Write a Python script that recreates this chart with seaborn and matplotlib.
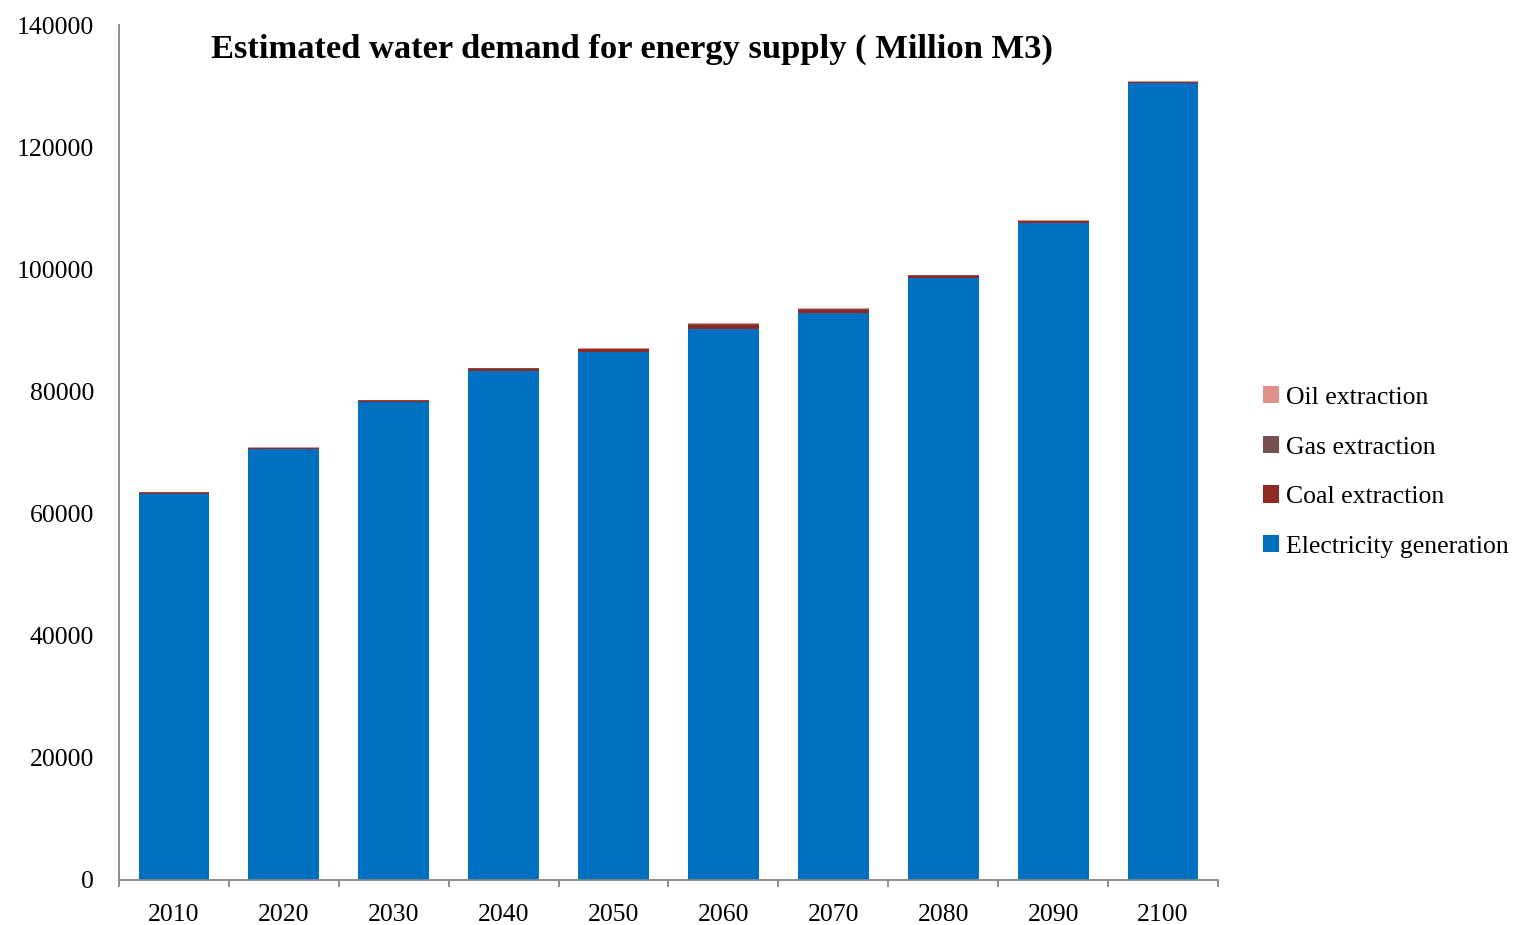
import numpy as np
import pandas as pd
import matplotlib
matplotlib.use("Agg")
import matplotlib.pyplot as plt
import seaborn as sns
from matplotlib.patches import Patch
from matplotlib.ticker import FixedLocator, MultipleLocator

years = ["2010", "2020", "2030", "2040", "2050", "2060", "2070", "2080", "2090", "2100"]
electricity = [63200, 70500, 78200, 83300, 86500, 90300, 92800, 98600, 107600, 130500]
coal = [250, 250, 300, 400, 450, 650, 550, 350, 250, 100]
gas = [50, 50, 50, 60, 60, 80, 150, 80, 80, 100]
oil = [100, 100, 100, 120, 120, 120, 100, 100, 100, 200]

series_names = ["Electricity generation", "Coal extraction", "Gas extraction", "Oil extraction"]
series_colors = ["#0070C0", "#8E2A22", "#7A4F4F", "#E0918A"]

df = pd.DataFrame({"year": years, "Electricity generation": electricity,
                   "Coal extraction": coal, "Gas extraction": gas, "Oil extraction": oil})

sns.set_theme(style="white")
plt.rcParams["font.family"] = ["Liberation Serif", "DejaVu Serif"]

fig = plt.figure(figsize=(15.18, 9.25), dpi=100)
ax = fig.add_axes([119 / 1518, 1 - 880 / 925, 1099 / 1518, 855 / 925])

# stacked bars: draw cumulative totals from the top layer down
cum = df[series_names].cumsum(axis=1)
for name, color in reversed(list(zip(series_names, series_colors))):
    sns.barplot(x=df["year"], y=cum[name], color=color, width=0.645,
                saturation=1, ax=ax, linewidth=0, zorder=2)

ax.set_xlim(-0.5, 9.5)
ax.set_ylim(0, 140000)
ax.yaxis.set_major_locator(MultipleLocator(20000))
ax.set_xlabel("")
ax.set_ylabel("")

for side in ["top", "right"]:
    ax.spines[side].set_visible(False)
for side in ["left", "bottom"]:
    ax.spines[side].set_color("#868686")
    ax.spines[side].set_linewidth(1.3)

ax.tick_params(axis="y", length=0, pad=18, labelsize=18.5, labelcolor="#000000")
ax.tick_params(axis="x", which="major", length=0, pad=17, labelsize=18.5, labelcolor="#000000")
ax.xaxis.set_minor_locator(FixedLocator(np.arange(-0.5, 10, 1.0)))
ax.tick_params(axis="x", which="minor", bottom=True, length=5, width=1.3,
               color="#868686", direction="out")

ax.text(0.467, 0.972, "Estimated water demand for energy supply ( Million M3)",
        transform=ax.transAxes, ha="center", va="center",
        fontsize=24.8, fontweight="bold", color="#000000")

handles = [Patch(facecolor=c, edgecolor="none", label=n)
           for n, c in zip(reversed(series_names), reversed(series_colors))]
fig.legend(handles=handles, loc="center left", bbox_to_anchor=(1240 / 1518, 1 - 472 / 925),
           frameon=False, fontsize=18.5, handlelength=0.6, handleheight=0.65,
           handletextpad=0.3, labelspacing=1.05, labelcolor="#000000")

fig.savefig("out.png", dpi=100)
